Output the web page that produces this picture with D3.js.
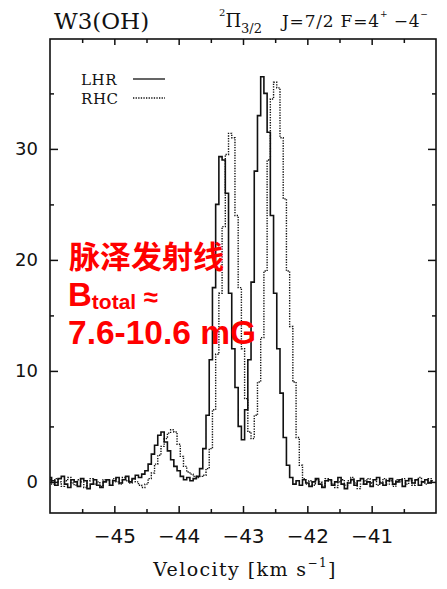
<!DOCTYPE html>
<html>
<head>
<meta charset="utf-8">
<script src="https://cdn.jsdelivr.net/npm/d3@7"></script>
<style>
  body { margin: 0; background: #fff; }
</style>
</head>
<body>
<svg id="chart" width="447" height="589"></svg>
<script>
// channel grid: -46.00 km/s, 0.05 km/s per channel
const vStart = -46
const vStep = 0.05

// LHR (solid) spectrum, one value per channel
const lhr = [
  0.4, 0.1, -0.3, 0.3, 0.5, -0.2, -0.5, 0.2, 0.0, -0.4,
  0.3, 0.1, -0.6, -0.2, 0.2, -0.3, -0.5, 0.0, 0.2, -0.3,
  0.1, 0.4, -0.1, 0.2, 0.5, 0.0, 0.3, 0.6, 0.4, 0.7,
  1.0, 1.6, 2.5, 3.3, 4.2, 4.5, 3.6, 2.8, 2.0, 1.4,
  1.0, 0.5, 0.2, 0.4, 0.1, 0.3, 0.5, 1.2, 3.0, 6.0,
  11.0, 17.5, 25.0, 29.3, 29.0, 26.0, 17.0, 12.0, 8.5, 5.0,
  3.8, 6.5, 11.0, 18.0, 28.0, 33.0, 36.5, 35.0, 31.5, 24.0,
  17.0, 12.0, 8.0, 4.0, 1.5, 0.4, -0.2, 0.1, -0.3, 0.2,
  -0.1, -0.4, 0.0, 0.3, -0.2, -0.5, 0.1, 0.2, -0.3, 0.0,
  0.4, -0.2, -0.6, -0.1, 0.2, -0.3, 0.1, 0.3, -0.2, 0.0,
  -0.4, 0.2, 0.4, -0.1, -0.3, 0.1, 0.3, -0.2, 0.0, 0.2,
  -0.4, 0.1, 0.3, -0.1, 0.2, -0.3, 0.0, 0.2, -0.1, 0.1
]

// RHC (dotted) spectrum
const rhc = [
  0.2, -0.2, 0.3, 0.0, -0.4, 0.1, 0.4, -0.1, -0.3, 0.2,
  0.0, -0.5, 0.1, 0.3, -0.2, 0.0, -0.4, 0.2, 0.1, -0.3,
  0.3, 0.0, -0.2, 0.4, 0.1, -0.1, 0.3, 0.0, -0.3, -0.5,
  -0.2, 0.3, 0.8, 1.6, 2.4, 3.2, 3.9, 4.4, 4.7, 4.5,
  3.4, 2.3, 1.4, 0.9, 0.7, 0.5, 0.4, 0.5, 0.6, 1.2,
  3.0, 6.5, 11.5, 17.0, 23.0, 29.5, 31.4, 31.0, 24.0, 17.5,
  12.0, 7.5, 4.5, 3.9, 6.0, 9.0, 13.0, 19.0, 29.0, 34.5,
  36.0, 35.5, 31.0, 25.5, 19.0, 14.0, 9.0, 4.0, 1.5, 0.3,
  -0.2, 0.1, -0.3, 0.2, 0.0, -0.4, 0.3, 0.1, -0.2, -0.5,
  0.0, 0.2, -0.3, 0.1, 0.4, -0.1, -0.6, -0.2, 0.1, 0.3,
  -0.1, 0.2, -0.3, 0.0, 0.3, -0.2, 0.1, -0.4, 0.2, 0.0,
  0.3, -0.2, 0.1, -0.3, 0.2, 0.4, 0.0, -0.2, 0.3, 0.1
]

const xTicks = [-45, -44, -43, -42, -41]
const xMinor = [-45.5, -44.5, -43.5, -42.5, -41.5, -40.5]
const yTicks = [0, 10, 20, 30]
const yMinor = [5, 15, 25, 35]

const frame = { left: 50, right: 436, top: 39, bottom: 513 }

const svg = d3.select('#chart')

const xScale = d3.scaleLinear().domain([-46, -40]).range([frame.left, frame.right])
const yScale = d3.scaleLinear().domain([-2.8, 39.9]).range([frame.bottom, frame.top])

const lhrData = lhr.map((d, i) => ({ v: vStart + i * vStep, t: d }))
const rhcData = rhc.map((d, i) => ({ v: vStart + i * vStep, t: d }))

/// spectra ////////////////////////
const line = d3
  .line()
  .x(d => xScale(d.v))
  .y(d => yScale(d.t))
  .curve(d3.curveStep)

svg
  .append('path')
  .datum(rhcData)
  .attr('d', line)
  .attr('fill', 'none')
  .attr('stroke', '#111')
  .attr('stroke-width', 1.4)
  .attr('stroke-dasharray', '1.3,1.3')

svg
  .append('path')
  .datum(lhrData)
  .attr('d', line)
  .attr('fill', 'none')
  .attr('stroke', '#111')
  .attr('stroke-width', 1.6)

/// frame + axes ////////////////////////
svg
  .append('rect')
  .attr('x', frame.left)
  .attr('y', frame.top)
  .attr('width', frame.right - frame.left)
  .attr('height', frame.bottom - frame.top)
  .attr('fill', 'none')
  .attr('stroke', '#111')
  .attr('stroke-width', 1.6)

function styleAxis(g) {
  g.select('.domain').remove()
  g.selectAll('line').attr('stroke', '#111').attr('stroke-width', 1.5)
}

svg
  .append('g')
  .attr('transform', `translate(0,${frame.bottom})`)
  .call(
    d3
      .axisBottom(xScale)
      .tickValues(xTicks)
      .tickFormat(d3.format('d'))
      .tickSizeInner(-7)
      .tickSizeOuter(0)
      .tickPadding(16)
  )
  .call(styleAxis)
  .call(g => g.selectAll('text').attr('font-size', 20).attr('font-family', 'DejaVu Sans').attr('fill', '#111'))

svg
  .append('g')
  .attr('transform', `translate(0,${frame.bottom})`)
  .call(d3.axisBottom(xScale).tickValues(xMinor).tickSizeInner(-4).tickSizeOuter(0).tickFormat(''))
  .call(styleAxis)

svg
  .append('g')
  .attr('transform', `translate(0,${frame.top})`)
  .call(d3.axisTop(xScale).tickValues(xTicks).tickSizeInner(-6).tickSizeOuter(0).tickFormat(''))
  .call(styleAxis)

svg
  .append('g')
  .attr('transform', `translate(0,${frame.top})`)
  .call(d3.axisTop(xScale).tickValues(xMinor).tickSizeInner(-4).tickSizeOuter(0).tickFormat(''))
  .call(styleAxis)

svg
  .append('g')
  .attr('transform', `translate(${frame.left},0)`)
  .call(d3.axisLeft(yScale).tickValues(yTicks).tickSizeInner(-8).tickSizeOuter(0).tickPadding(12))
  .call(styleAxis)
  .call(g => g.selectAll('text').attr('font-size', 18).attr('font-family', 'DejaVu Sans').attr('fill', '#111'))

svg
  .append('g')
  .attr('transform', `translate(${frame.left},0)`)
  .call(d3.axisLeft(yScale).tickValues(yMinor).tickSizeInner(-4).tickSizeOuter(0).tickFormat(''))
  .call(styleAxis)

svg
  .append('g')
  .attr('transform', `translate(${frame.right},0)`)
  .call(d3.axisRight(yScale).tickValues(yTicks).tickSizeInner(-8).tickSizeOuter(0).tickFormat(''))
  .call(styleAxis)

svg
  .append('g')
  .attr('transform', `translate(${frame.right},0)`)
  .call(d3.axisRight(yScale).tickValues(yMinor).tickSizeInner(-4).tickSizeOuter(0).tickFormat(''))
  .call(styleAxis)

/// titles ////////////////////////
const serif = 'DejaVu Serif, serif'

svg
  .append('text')
  .text('W3(OH)')
  .attr('x', 54)
  .attr('y', 29)
  .attr('font-size', 23)
  .attr('font-family', serif)
  .attr('fill', '#111')

const trans = svg
  .append('text')
  .attr('x', 219)
  .attr('y', 27)
  .attr('font-family', serif)
  .attr('font-size', 17)
  .attr('fill', '#111')
trans.append('tspan').text('2').attr('font-size', 10).attr('dy', -11)
trans.append('tspan').text('Π').attr('font-size', 18).attr('dy', 11)
trans.append('tspan').text('3/2').attr('font-size', 13).attr('dy', 6)
trans.append('tspan').text('J=7/2 F=4').attr('x', 282).attr('dy', -6).attr('letter-spacing', 0.8)
trans.append('tspan').text('+').attr('font-size', 9).attr('dy', -10)
trans.append('tspan').text(' −4').attr('dy', 10).attr('letter-spacing', 0.8)
trans.append('tspan').text('−').attr('font-size', 9).attr('dy', -10)

svg
  .append('text')
  .attr('x', 245)
  .attr('y', 576)
  .attr('text-anchor', 'middle')
  .attr('font-family', serif)
  .attr('font-size', 19)
  .attr('letter-spacing', 1.4)
  .attr('fill', '#111')
  .call(t => t.append('tspan').text('Velocity [km s'))
  .call(t => t.append('tspan').text('−1').attr('font-size', 12).attr('dy', -9))
  .call(t => t.append('tspan').text(']').attr('dy', 9))

/// legend ////////////////////////
const legend = [
  { label: 'LHR', y: 79, dash: null },
  { label: 'RHC', y: 98, dash: '1.3,1.3' }
]
legend.forEach(d => {
  svg
    .append('text')
    .text(d.label)
    .attr('x', 81)
    .attr('y', d.y + 6)
    .attr('font-family', serif)
    .attr('font-size', 15)
    .attr('letter-spacing', 0.6)
    .attr('fill', '#111')
  svg
    .append('line')
    .attr('x1', 133)
    .attr('x2', 165)
    .attr('y1', d.y)
    .attr('y2', d.y)
    .attr('stroke', '#111')
    .attr('stroke-width', 1.3)
    .attr('stroke-dasharray', d.dash)
})

/// red annotation ////////////////////////
svg
  .append('text')
  .text('脉泽发射线')
  .attr('x', 69)
  .attr('y', 268)
  .attr('font-family', 'Noto Sans CJK SC')
  .attr('font-weight', 700)
  .attr('font-size', 31)
  .attr('fill', '#ff0000')

svg
  .append('text')
  .attr('x', 68)
  .attr('y', 306)
  .attr('font-family', 'Liberation Sans, Arial, sans-serif')
  .attr('font-weight', 700)
  .attr('font-size', 33)
  .attr('fill', '#ff0000')
  .call(t => t.append('tspan').text('B'))
  .call(t => t.append('tspan').text('total').attr('font-size', 21).attr('dy', 3))
  .call(t => t.append('tspan').text(' ≈').attr('font-size', 26).attr('dy', -3))

svg
  .append('text')
  .text('7.6-10.6 mG')
  .attr('x', 68)
  .attr('y', 344)
  .attr('font-family', 'Liberation Sans, Arial, sans-serif')
  .attr('font-weight', 700)
  .attr('font-size', 33.5)
  .attr('fill', '#ff0000')
</script>
</body>
</html>
